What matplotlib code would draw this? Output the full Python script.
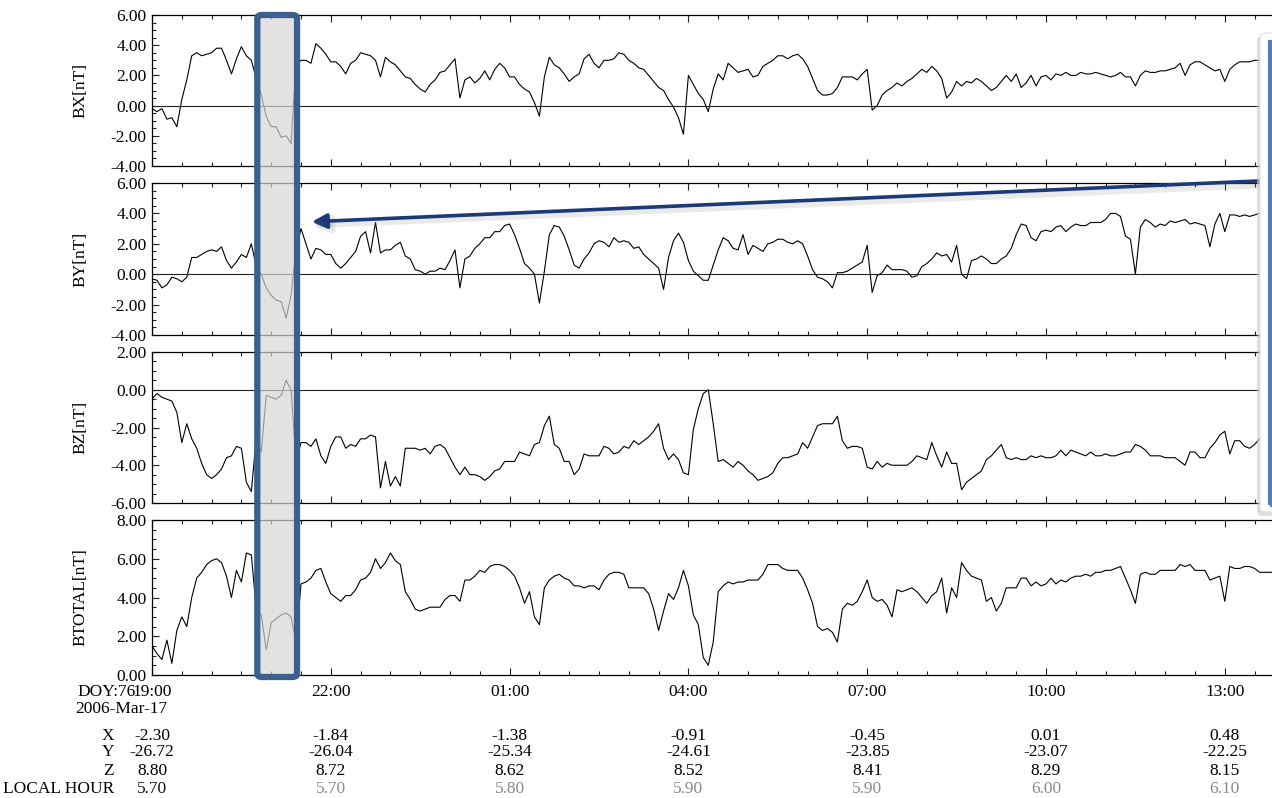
import numpy as np
import pandas as pd
import matplotlib
matplotlib.use('Agg')
import matplotlib.pyplot as plt
import matplotlib.dates as mdates
from matplotlib.patches import FancyBboxPatch, Rectangle
from matplotlib.ticker import MultipleLocator, FormatStrFormatter

plt.rcParams['font.family'] = ['Liberation Serif', 'DejaVu Serif']

# magnetic field samples, 5 minute spacing from 2006-03-17 19:00
bx = [-0.2, -0.4, -0.2, -0.9, -0.8, -1.4, 0.4, 1.7, 3.3, 3.5,
      3.3, 3.4, 3.5, 3.8, 3.8, 3.0, 2.1, 3.1, 3.9, 3.3,
      3.0, 1.8, 0.7, -0.7, -1.4, -1.4, -2.1, -2.0, -2.5, 2.7,
      3.0, 3.0, 2.8, 4.1, 3.8, 3.4, 2.9, 2.9, 2.6, 2.1,
      2.8, 3.0, 3.5, 3.4, 3.3, 3.0, 1.9, 3.2, 2.9, 2.7,
      2.3, 1.9, 1.8, 1.4, 1.1, 0.9, 1.4, 1.7, 2.2, 2.3,
      2.7, 3.1, 0.5, 1.7, 1.9, 1.5, 1.8, 2.3, 1.7, 2.4,
      2.8, 2.5, 1.9, 1.9, 1.4, 1.1, 0.9, 0.2, -0.7, 1.9,
      3.2, 2.7, 2.5, 2.1, 1.6, 1.9, 2.1, 3.1, 3.4, 2.8,
      2.5, 3.0, 3.0, 3.1, 3.5, 3.4, 3.0, 2.8, 2.5, 2.4,
      2.0, 1.6, 1.2, 1.0, 0.4, -0.1, -0.8, -1.9, 2.0, 1.4,
      0.8, 0.4, -0.4, 1.1, 2.1, 1.7, 2.8, 2.5, 2.2, 2.3,
      2.4, 1.9, 2.0, 2.6, 2.8, 3.0, 3.3, 3.3, 3.1, 3.3,
      3.4, 3.1, 2.6, 1.8, 1.0, 0.7, 0.7, 0.8, 1.2, 1.9,
      1.9, 1.9, 1.7, 2.1, 2.4, -0.3, 0.0, 0.7, 1.0, 1.2,
      1.5, 1.3, 1.6, 1.8, 2.1, 2.4, 2.2, 2.6, 2.3, 1.8,
      0.5, 0.9, 1.6, 1.3, 1.6, 1.5, 1.8, 1.6, 1.3, 1.0,
      1.2, 1.6, 2.0, 1.6, 2.1, 1.2, 1.5, 2.0, 1.3, 1.9,
      2.0, 1.7, 2.1, 2.0, 2.2, 2.0, 2.0, 2.2, 2.1, 2.1,
      2.2, 2.1, 2.0, 1.9, 2.0, 2.2, 1.9, 1.9, 1.3, 2.0,
      2.3, 2.2, 2.2, 2.3, 2.3, 2.4, 2.5, 2.8, 2.0, 2.7,
      2.9, 2.9, 2.7, 2.5, 2.3, 2.4, 1.6, 2.4, 2.7, 2.9,
      2.9, 2.9, 3.0, 3.0, 3.0, 3.0, 3.0]

by = [-0.3, -0.4, -0.9, -0.7, -0.2, -0.3, -0.5, -0.2, 1.1, 1.1,
      1.3, 1.5, 1.6, 1.5, 1.8, 0.9, 0.4, 0.8, 1.3, 1.1,
      2.0, 0.5, 0.0, -0.9, -1.4, -1.7, -1.8, -2.9, -1.4, 1.6,
      3.0, 2.0, 1.0, 1.7, 1.6, 1.3, 1.3, 0.7, 0.4, 0.7,
      1.1, 1.5, 2.5, 2.8, 1.4, 3.4, 1.4, 1.6, 1.6, 1.9,
      2.1, 1.2, 1.0, 0.3, 0.2, 0.0, 0.2, 0.2, 0.4, 0.3,
      0.9, 1.6, -0.9, 1.0, 1.2, 1.7, 2.0, 2.4, 2.4, 2.8,
      2.8, 3.2, 3.3, 2.6, 1.7, 0.7, 0.4, 0.0, -1.9, 0.2,
      2.6, 3.2, 3.1, 2.5, 1.6, 0.6, 0.4, 1.0, 1.4, 2.0,
      2.2, 2.1, 1.8, 2.4, 2.1, 2.2, 2.1, 1.7, 1.8, 1.3,
      1.0, 0.7, 0.4, -1.0, 1.1, 2.2, 2.7, 2.1, 0.9, 0.2,
      -0.1, -0.4, -0.4, 0.6, 1.6, 2.4, 2.2, 1.7, 1.6, 2.6,
      1.3, 1.9, 1.7, 1.5, 2.0, 2.1, 2.3, 2.3, 2.1, 2.0,
      2.2, 2.0, 1.2, 0.3, -0.2, -0.3, -0.5, -0.9, 0.1, 0.1,
      0.2, 0.4, 0.6, 0.8, 1.9, -1.2, -0.1, 0.1, 0.6, 0.3,
      0.3, 0.3, 0.2, -0.2, -0.1, 0.5, 0.7, 1.0, 1.4, 1.2,
      1.3, 0.8, 1.9, 0.0, -0.3, 0.9, 1.0, 1.2, 1.0, 0.7,
      0.7, 1.0, 1.2, 1.7, 2.6, 3.3, 3.2, 2.4, 2.2, 2.8,
      2.9, 2.8, 3.1, 3.2, 2.8, 3.1, 3.3, 3.2, 3.2, 3.4,
      3.4, 3.4, 3.6, 4.0, 4.0, 3.8, 2.5, 2.3, 0.0, 3.1,
      3.6, 3.4, 3.1, 3.3, 3.2, 3.5, 3.4, 3.5, 3.6, 3.3,
      3.4, 3.3, 3.2, 1.8, 3.3, 4.0, 2.8, 3.9, 3.9, 3.8,
      3.9, 3.8, 3.9, 4.0, 4.0, 4.0, 4.0]

bz = [-0.5, -0.2, -0.4, -0.5, -0.6, -1.2, -2.8, -1.8, -2.6, -3.1,
      -3.9, -4.5, -4.7, -4.5, -4.2, -3.6, -3.5, -3.0, -3.1, -4.9,
      -5.4, -2.5, -3.3, -0.3, -0.4, -0.5, -0.3, 0.5, 0.0, -3.8,
      -2.8, -2.8, -3.0, -2.6, -3.5, -3.9, -3.0, -2.5, -2.5, -3.1,
      -2.9, -3.0, -2.6, -2.6, -2.4, -2.5, -5.2, -3.8, -5.1, -4.6,
      -5.1, -3.1, -3.1, -3.1, -3.2, -3.1, -3.4, -3.0, -2.9, -3.1,
      -3.6, -4.1, -4.5, -4.1, -4.5, -4.5, -4.6, -4.8, -4.6, -4.3,
      -4.2, -3.8, -3.8, -3.8, -3.3, -3.4, -3.5, -2.9, -2.8, -1.9,
      -1.4, -2.9, -3.1, -3.8, -3.8, -4.5, -4.2, -3.4, -3.5, -3.5,
      -3.5, -3.0, -3.1, -3.4, -3.3, -3.0, -3.1, -2.7, -2.9, -2.7,
      -2.5, -2.2, -1.8, -3.1, -3.7, -3.4, -3.7, -4.4, -4.5, -2.1,
      -1.0, -0.2, 0.0, -1.8, -3.8, -3.7, -3.9, -4.1, -3.8, -4.0,
      -4.3, -4.5, -4.8, -4.7, -4.6, -4.4, -3.9, -3.6, -3.6, -3.5,
      -3.4, -2.8, -3.1, -2.5, -1.9, -1.8, -1.8, -1.8, -1.4, -2.7,
      -3.1, -3.0, -3.0, -3.1, -4.1, -4.2, -3.8, -4.1, -3.9, -4.0,
      -4.0, -4.0, -4.0, -3.8, -3.5, -3.6, -3.7, -2.8, -3.5, -4.1,
      -3.3, -3.9, -3.9, -5.3, -4.9, -4.7, -4.5, -4.3, -3.7, -3.5,
      -3.2, -2.9, -3.6, -3.7, -3.6, -3.7, -3.7, -3.5, -3.6, -3.5,
      -3.6, -3.6, -3.5, -3.2, -3.5, -3.2, -3.3, -3.4, -3.5, -3.3,
      -3.5, -3.5, -3.4, -3.5, -3.5, -3.4, -3.3, -3.3, -2.9, -3.0,
      -3.2, -3.5, -3.5, -3.5, -3.6, -3.6, -3.6, -3.8, -4.0, -3.3,
      -3.3, -3.6, -3.6, -3.1, -2.8, -2.4, -2.2, -3.4, -2.7, -2.7,
      -3.0, -3.1, -2.9, -2.6, -2.6, -2.7, -2.7]

btotal = [1.5, 1.1, 0.8, 1.8, 0.6, 2.3, 3.0, 2.5, 4.0, 5.0,
          5.3, 5.7, 5.9, 6.0, 5.8, 5.1, 4.0, 5.4, 4.8, 6.3,
          6.2, 3.4, 3.1, 1.3, 2.7, 2.9, 3.1, 3.2, 3.0, 1.7,
          4.7, 4.8, 5.0, 5.4, 5.5, 4.8, 4.2, 4.0, 3.8, 4.1,
          4.1, 4.4, 4.9, 5.0, 5.3, 6.0, 5.5, 5.8, 6.3, 5.9,
          5.7, 4.3, 3.9, 3.4, 3.3, 3.4, 3.5, 3.5, 3.5, 3.9,
          4.1, 4.1, 3.8, 4.9, 4.9, 5.1, 5.4, 5.3, 5.6, 5.7,
          5.7, 5.6, 5.4, 5.1, 4.5, 3.7, 4.3, 3.0, 2.6, 4.5,
          4.9, 5.1, 5.2, 5.0, 4.9, 4.6, 4.6, 4.5, 4.6, 4.6,
          4.4, 4.9, 5.2, 5.3, 5.3, 5.2, 4.5, 4.5, 4.5, 4.5,
          4.2, 3.4, 2.3, 3.3, 4.2, 3.9, 4.5, 5.4, 4.6, 3.1,
          2.6, 0.9, 0.5, 1.7, 4.3, 4.6, 4.8, 4.7, 4.8, 4.8,
          4.9, 4.9, 4.9, 5.2, 5.7, 5.7, 5.7, 5.5, 5.4, 5.4,
          5.4, 5.0, 4.4, 3.7, 2.5, 2.3, 2.4, 2.2, 1.7, 3.4,
          3.7, 3.6, 3.8, 4.3, 4.9, 4.0, 3.8, 3.9, 3.6, 3.0,
          4.4, 4.3, 4.4, 4.5, 4.3, 4.0, 3.7, 4.1, 4.3, 5.0,
          3.2, 4.5, 4.0, 5.8, 5.4, 5.1, 5.0, 4.9, 3.8, 4.0,
          3.3, 3.7, 4.5, 4.5, 4.5, 5.0, 5.0, 4.6, 4.8, 4.6,
          4.7, 5.0, 4.7, 4.9, 4.8, 5.0, 5.1, 5.1, 5.2, 5.1,
          5.3, 5.3, 5.4, 5.4, 5.5, 5.6, 5.0, 4.4, 3.7, 5.2,
          5.3, 5.2, 5.2, 5.4, 5.4, 5.4, 5.4, 5.7, 5.6, 5.7,
          5.4, 5.4, 5.4, 4.9, 5.0, 5.1, 3.8, 5.6, 5.5, 5.5,
          5.6, 5.6, 5.5, 5.3, 5.3, 5.3, 5.3]

times = pd.date_range('2006-03-17 19:00', periods=len(bx), freq='5min')
t_start = pd.Timestamp('2006-03-17 19:00')
t_end = pd.Timestamp('2006-03-18 14:00')

# orbit rows under the time axis
label_times = pd.to_datetime(['2006-03-17 19:00', '2006-03-17 22:00', '2006-03-18 01:00',
                              '2006-03-18 04:00', '2006-03-18 07:00', '2006-03-18 10:00',
                              '2006-03-18 13:00'])
pos_x = ['-2.30', '-1.84', '-1.38', '-0.91', '-0.45', '0.01', '0.48']
pos_y = ['-26.72', '-26.04', '-25.34', '-24.61', '-23.85', '-23.07', '-22.25']
pos_z = ['8.80', '8.72', '8.62', '8.52', '8.41', '8.29', '8.15']
local_hour = ['5.70', '5.70', '5.80', '5.90', '5.90', '6.00', '6.10']

# highlighted interval
hl_start = pd.Timestamp('2006-03-17 20:46')
hl_end = pd.Timestamp('2006-03-17 21:26')

W, H = 1272, 798
FS = 12.5
fig = plt.figure(figsize=(W / 100, H / 100), dpi=100)

panels = [(bx, 'BX[nT]', (-4, 6), 15, 166, True),
          (by, 'BY[nT]', (-4, 6), 183, 335, True),
          (bz, 'BZ[nT]', (-6, 2), 352, 503, True),
          (btotal, 'BTOTAL[nT]', (0, 8), 520, 675, False)]

axes = []
for vals, lab, lim, top, bot, zero in panels:
    ax = fig.add_axes([152 / W, 1 - bot / H, 1132.4 / W, (bot - top) / H])
    ax.plot(times, vals, color='black', lw=0.8)
    if zero:
        ax.axhline(0, color='#222222', lw=0.8)
    ax.set_xlim(t_start, t_end)
    ax.set_ylim(*lim)
    ax.yaxis.set_major_locator(MultipleLocator(2))
    ax.yaxis.set_minor_locator(MultipleLocator(0.5))
    ax.yaxis.set_major_formatter(FormatStrFormatter('%.2f'))
    ax.xaxis.set_major_locator(mdates.HourLocator(byhour=[1, 4, 7, 10, 13, 16, 19, 22]))
    ax.xaxis.set_minor_locator(mdates.MinuteLocator(byminute=[0, 30]))
    ax.tick_params(which='both', direction='in', top=True, bottom=True,
                   left=True, right=False, labelbottom=False, labelsize=FS,
                   width=0.8, color='#222222')
    ax.tick_params(which='major', length=5, pad=4)
    ax.tick_params(which='minor', length=3)
    for sp in ax.spines.values():
        sp.set_linewidth(0.9)
    ax.set_ylabel(lab, fontsize=FS)
    ax.yaxis.set_label_coords(-0.0565, 0.5)
    axes.append(ax)

ax4 = axes[-1]
trans = matplotlib.transforms.blended_transform_factory(ax4.transData, fig.transFigure)
for i, t in enumerate(label_times):
    tx = mdates.date2num(t)
    ax4.text(tx, 1 - 692 / H, t.strftime('%H:%M'), transform=trans, ha='center', va='center', fontsize=FS)
    ax4.text(tx, 1 - 736 / H, pos_x[i], transform=trans, ha='center', va='center', fontsize=FS)
    ax4.text(tx, 1 - 752 / H, pos_y[i], transform=trans, ha='center', va='center', fontsize=FS)
    ax4.text(tx, 1 - 771 / H, pos_z[i], transform=trans, ha='center', va='center', fontsize=FS)
    ax4.text(tx, 1 - 789 / H, local_hour[i], transform=trans, ha='center', va='center', fontsize=FS,
             color='#111111' if i == 0 else '#8a8a8a')

fig.text(136 / W, 1 - 692 / H, 'DOY:76', ha='right', va='center', fontsize=FS)
fig.text(75 / W, 1 - 709 / H, '2006-Mar-17', ha='left', va='center', fontsize=FS)
for txt, y in [('X', 736), ('Y', 752), ('Z', 771), ('LOCAL HOUR', 789)]:
    fig.text(114 / W, 1 - y / H, txt, ha='right', va='center', fontsize=FS)

# grey highlight box spanning the four panels
inv = fig.transFigure.inverted()
x0 = inv.transform(axes[0].transData.transform((mdates.date2num(hl_start), 0)))[0]
x1 = inv.transform(axes[0].transData.transform((mdates.date2num(hl_end), 0)))[0]
box = FancyBboxPatch((x0, 1 - 677 / H), x1 - x0, (677 - 15) / H,
                     boxstyle='round,pad=0,rounding_size=0.004',
                     transform=fig.transFigure, facecolor='#d6d6d6', alpha=0.7,
                     edgecolor='none', zorder=5)
fig.add_artist(box)
edge = FancyBboxPatch((x0, 1 - 677 / H), x1 - x0, (677 - 15) / H,
                      boxstyle='round,pad=0,rounding_size=0.004',
                      transform=fig.transFigure, facecolor='none',
                      edgecolor='#3b5f8e', lw=4.5, zorder=6)
fig.add_artist(edge)

# arrow pointing to the highlighted interval
tip = (mdates.date2num(pd.Timestamp('2006-03-17 21:41')), 3.45)
axes[1].annotate('', xy=(tip[0], 3.25), xycoords='data',
                 xytext=(1258 / W, 1 - 185 / H), textcoords='figure fraction',
                 arrowprops=dict(arrowstyle='-|>', color='#9a9a9a', lw=5, alpha=0.2,
                                 mutation_scale=22, shrinkA=0, shrinkB=0),
                 annotation_clip=False, zorder=7)
axes[1].annotate('', xy=tip, xycoords='data',
                 xytext=(1258 / W, 1 - 181 / H), textcoords='figure fraction',
                 arrowprops=dict(arrowstyle='-|>', color='#1c3a78', lw=2.6,
                                 mutation_scale=22, shrinkA=0, shrinkB=0),
                 annotation_clip=False, zorder=8)

# callout box at the right edge
shadow = FancyBboxPatch((1257 / W, 1 - 516 / H), 40 / W, (516 - 36) / H,
                        boxstyle='round,pad=0,rounding_size=0.005',
                        transform=fig.transFigure, facecolor='#c8c8c8', alpha=0.6,
                        edgecolor='none', zorder=9)
fig.add_artist(shadow)
callout = FancyBboxPatch((1260 / W, 1 - 512 / H), 40 / W, (512 - 33) / H,
                         boxstyle='round,pad=0,rounding_size=0.005',
                         transform=fig.transFigure, facecolor='white',
                         edgecolor='#e0e0e0', lw=0.8, zorder=10)
fig.add_artist(callout)
frame = Rectangle((1269.5 / W, 1 - 505 / H), 40 / W, (505 - 42) / H,
                  transform=fig.transFigure, facecolor='none',
                  edgecolor='#4f7fbd', lw=3, zorder=11)
fig.add_artist(frame)

fig.savefig('out.png', dpi=100)
